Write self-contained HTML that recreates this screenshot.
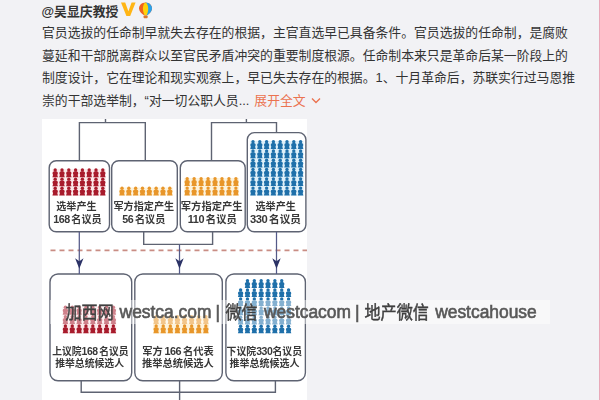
<!DOCTYPE html>
<html lang="zh-CN"><head><meta charset="utf-8"><title>weibo</title>
<style>
html,body{margin:0;padding:0}
body{width:600px;height:400px;overflow:hidden;background:#f2f2f5;position:relative;
font-family:"Liberation Sans","Noto Sans CJK SC",sans-serif;color:#333}
.name{position:absolute;left:41.6px;top:3px;font-size:12.85px;line-height:18px;font-weight:bold;white-space:nowrap}
.txt{position:absolute;left:42px;top:22px;width:545px;font-size:12.83px;line-height:22.5px;white-space:nowrap}
.more{color:#eb7350;margin-left:1.4px}
.pic{position:absolute;left:42px;top:119px;width:265px;height:281px;background:#fff}
.dia{position:absolute;left:0;top:0;filter:blur(0.65px)}
.wm{position:absolute;left:50px;top:300.1px;width:499.8px;height:23.8px;background:rgba(255,255,255,.45);}
.wmt{position:absolute;left:0;top:301px;height:24px;line-height:22px;font-size:16px;color:#5c5c5c;white-space:nowrap}
.wmt span{position:absolute;top:0}
.wmt .l{font-size:17.4px;transform:scale(1,1.09);transform-origin:0 17.4px;-webkit-text-stroke:.6px #585858;color:#585858}
.wmt .c{font-size:16.1px;transform:scale(1,1.15);transform-origin:0 10.9px;-webkit-text-stroke:.4px #404040;color:#404040}
.edge{position:absolute;right:0;top:0;width:1px;height:400px;background:#e9a9b9}
.ic{position:absolute;top:2px}
</style></head><body>
<div class="name">@吴显庆教授</div>
<svg class="ic" style="left:120px;top:0" width="17" height="18" viewBox="0 0 17 18"><path d="M1 2.6H5.2L8.4 11.2L11.6 2.6H15.6L10.2 16H6.4Z" fill="#ffb515"/></svg>
<svg class="ic" style="left:138px;top:0" width="16" height="20" viewBox="0 0 16 20"><path d="M7.5 2.4C3.6 2.4 1 5.2 1 8.4C1 11.4 3.8 13.6 6 15.2H9C11.2 13.6 14 11.4 14 8.4C14 5.2 11.4 2.4 7.5 2.4Z" fill="#f0621f"/><path d="M7.5 2.4C11.4 2.4 14 5.2 14 8.4C14 11.4 11.2 13.6 9 15.2H7.5Z" fill="#2ba2ea"/><path d="M7.5 2.4C5.6 3.4 4.9 6 4.9 8.4C4.9 11 5.8 13.6 6.6 15.2H8.6C9.4 13.6 10.2 11 10.2 8.4C10.2 6 9.4 3.4 7.5 2.4Z" fill="#ffd20a"/><rect x="5.6" y="15.6" width="4" height="2.6" rx=".7" fill="#d9772e"/></svg>
<div class="txt">官员选拔的任命制早就失去存在的根据，主官直选早已具备条件。官员选拔的任命制，是腐败<br>蔓延和干部脱离群众以至官民矛盾冲突的重要制度根源。任命制本来只是革命后某一阶段上的<br>制度设计，它在理论和现实观察上，早已失去存在的根据。1、十月革命后，苏联实行过马恩推<br>崇的干部选举制，“对一切公职人员... <span class="more">展开全文 <svg width="10" height="8" viewBox="0 0 10 8" style="vertical-align:0;margin-left:2px"><path d="M1 1.5L5 5.5L9 1.5" stroke="#eb7350" stroke-width="1.4" fill="none"/></svg></span></div>
<div class="pic"></div>
<svg class="dia" width="600" height="400" viewBox="0 0 600 400"><g stroke="#5e6372" stroke-width="1.4" fill="none"><path d="M105.5 119V122.6M79.4 161V122.6H145.3V161"/><path d="M246.4 119V122.6M211.5 161V122.6H276.5V132.5"/><rect x="49.2" y="160.8" width="60.3" height="71.0" rx="7" fill="#fff"/><rect x="111.7" y="160.8" width="65.6" height="71.0" rx="7" fill="#fff"/><rect x="180.3" y="160.8" width="64.9" height="71.0" rx="7" fill="#fff"/><rect x="247.3" y="132.6" width="58.6" height="99.2" rx="7" fill="#fff"/><path d="M143.7 232V244.4H212.6V232"/><rect x="50" y="274" width="81.7" height="106.8" rx="8" fill="#fff"/><rect x="134.8" y="274" width="87.5" height="106.8" rx="8" fill="#fff"/><rect x="225.9" y="274" width="79.5" height="106.8" rx="8" fill="#fff"/><path d="M81.2 381V392.2H275.4V381M179.6 381V400"/></g><path d="M50.5 250.4H307" stroke="#c98d84" stroke-width="1.7" stroke-dasharray="5 4" fill="none"/><path d="M79.3 232V274" stroke="#545a88" stroke-width="1.25" fill="none"/><path d="M75.1 258.2L79.3 261.2L83.5 258.2L79.3 268.8Z" fill="#2b3266"/><path d="M179.5 244.4V274" stroke="#545a88" stroke-width="1.25" fill="none"/><path d="M175.3 258.2L179.5 261.2L183.7 258.2L179.5 268.8Z" fill="#2b3266"/><path d="M276.5 232V274" stroke="#545a88" stroke-width="1.25" fill="none"/><path d="M272.3 258.2L276.5 261.2L280.7 258.2L276.5 268.8Z" fill="#2b3266"/><rect x="52.3" y="169.2" width="53.4" height="26.4" fill="#fbe9ea"/><g fill="#a81b2c"><circle cx="55.20" cy="170.00" r="1.70"/><path d="M54.20 171.30L56.20 171.30Q58.00 171.70 57.90 173.30L57.30 175.02L57.95 177.13L52.45 177.13L53.10 175.02L52.50 173.30Q52.40 171.70 54.20 171.30Z"/><circle cx="62.00" cy="170.00" r="1.70"/><path d="M61.00 171.30L63.00 171.30Q64.80 171.70 64.70 173.30L64.10 175.02L64.75 177.13L59.25 177.13L59.90 175.02L59.30 173.30Q59.20 171.70 61.00 171.30Z"/><circle cx="68.80" cy="170.00" r="1.70"/><path d="M67.80 171.30L69.80 171.30Q71.60 171.70 71.50 173.30L70.90 175.02L71.55 177.13L66.05 177.13L66.70 175.02L66.10 173.30Q66.00 171.70 67.80 171.30Z"/><circle cx="75.60" cy="170.00" r="1.70"/><path d="M74.60 171.30L76.60 171.30Q78.40 171.70 78.30 173.30L77.70 175.02L78.35 177.13L72.85 177.13L73.50 175.02L72.90 173.30Q72.80 171.70 74.60 171.30Z"/><circle cx="82.40" cy="170.00" r="1.70"/><path d="M81.40 171.30L83.40 171.30Q85.20 171.70 85.10 173.30L84.50 175.02L85.15 177.13L79.65 177.13L80.30 175.02L79.70 173.30Q79.60 171.70 81.40 171.30Z"/><circle cx="89.20" cy="170.00" r="1.70"/><path d="M88.20 171.30L90.20 171.30Q92.00 171.70 91.90 173.30L91.30 175.02L91.95 177.13L86.45 177.13L87.10 175.02L86.50 173.30Q86.40 171.70 88.20 171.30Z"/><circle cx="96.00" cy="170.00" r="1.70"/><path d="M95.00 171.30L97.00 171.30Q98.80 171.70 98.70 173.30L98.10 175.02L98.75 177.13L93.25 177.13L93.90 175.02L93.30 173.30Q93.20 171.70 95.00 171.30Z"/><circle cx="102.80" cy="170.00" r="1.70"/><path d="M101.80 171.30L103.80 171.30Q105.60 171.70 105.50 173.30L104.90 175.02L105.55 177.13L100.05 177.13L100.70 175.02L100.10 173.30Q100.00 171.70 101.80 171.30Z"/><circle cx="55.20" cy="179.13" r="1.70"/><path d="M54.20 180.43L56.20 180.43Q58.00 180.83 57.90 182.43L57.30 184.15L57.95 186.27L52.45 186.27L53.10 184.15L52.50 182.43Q52.40 180.83 54.20 180.43Z"/><circle cx="62.00" cy="179.13" r="1.70"/><path d="M61.00 180.43L63.00 180.43Q64.80 180.83 64.70 182.43L64.10 184.15L64.75 186.27L59.25 186.27L59.90 184.15L59.30 182.43Q59.20 180.83 61.00 180.43Z"/><circle cx="68.80" cy="179.13" r="1.70"/><path d="M67.80 180.43L69.80 180.43Q71.60 180.83 71.50 182.43L70.90 184.15L71.55 186.27L66.05 186.27L66.70 184.15L66.10 182.43Q66.00 180.83 67.80 180.43Z"/><circle cx="75.60" cy="179.13" r="1.70"/><path d="M74.60 180.43L76.60 180.43Q78.40 180.83 78.30 182.43L77.70 184.15L78.35 186.27L72.85 186.27L73.50 184.15L72.90 182.43Q72.80 180.83 74.60 180.43Z"/><circle cx="82.40" cy="179.13" r="1.70"/><path d="M81.40 180.43L83.40 180.43Q85.20 180.83 85.10 182.43L84.50 184.15L85.15 186.27L79.65 186.27L80.30 184.15L79.70 182.43Q79.60 180.83 81.40 180.43Z"/><circle cx="89.20" cy="179.13" r="1.70"/><path d="M88.20 180.43L90.20 180.43Q92.00 180.83 91.90 182.43L91.30 184.15L91.95 186.27L86.45 186.27L87.10 184.15L86.50 182.43Q86.40 180.83 88.20 180.43Z"/><circle cx="96.00" cy="179.13" r="1.70"/><path d="M95.00 180.43L97.00 180.43Q98.80 180.83 98.70 182.43L98.10 184.15L98.75 186.27L93.25 186.27L93.90 184.15L93.30 182.43Q93.20 180.83 95.00 180.43Z"/><circle cx="102.80" cy="179.13" r="1.70"/><path d="M101.80 180.43L103.80 180.43Q105.60 180.83 105.50 182.43L104.90 184.15L105.55 186.27L100.05 186.27L100.70 184.15L100.10 182.43Q100.00 180.83 101.80 180.43Z"/><circle cx="55.20" cy="188.27" r="1.70"/><path d="M54.20 189.57L56.20 189.57Q58.00 189.97 57.90 191.57L57.30 193.28L57.95 195.40L52.45 195.40L53.10 193.28L52.50 191.57Q52.40 189.97 54.20 189.57Z"/><circle cx="62.00" cy="188.27" r="1.70"/><path d="M61.00 189.57L63.00 189.57Q64.80 189.97 64.70 191.57L64.10 193.28L64.75 195.40L59.25 195.40L59.90 193.28L59.30 191.57Q59.20 189.97 61.00 189.57Z"/><circle cx="68.80" cy="188.27" r="1.70"/><path d="M67.80 189.57L69.80 189.57Q71.60 189.97 71.50 191.57L70.90 193.28L71.55 195.40L66.05 195.40L66.70 193.28L66.10 191.57Q66.00 189.97 67.80 189.57Z"/><circle cx="75.60" cy="188.27" r="1.70"/><path d="M74.60 189.57L76.60 189.57Q78.40 189.97 78.30 191.57L77.70 193.28L78.35 195.40L72.85 195.40L73.50 193.28L72.90 191.57Q72.80 189.97 74.60 189.57Z"/><circle cx="82.40" cy="188.27" r="1.70"/><path d="M81.40 189.57L83.40 189.57Q85.20 189.97 85.10 191.57L84.50 193.28L85.15 195.40L79.65 195.40L80.30 193.28L79.70 191.57Q79.60 189.97 81.40 189.57Z"/><circle cx="89.20" cy="188.27" r="1.70"/><path d="M88.20 189.57L90.20 189.57Q92.00 189.97 91.90 191.57L91.30 193.28L91.95 195.40L86.45 195.40L87.10 193.28L86.50 191.57Q86.40 189.97 88.20 189.57Z"/><circle cx="96.00" cy="188.27" r="1.70"/><path d="M95.00 189.57L97.00 189.57Q98.80 189.97 98.70 191.57L98.10 193.28L98.75 195.40L93.25 195.40L93.90 193.28L93.30 191.57Q93.20 189.97 95.00 189.57Z"/><circle cx="102.80" cy="188.27" r="1.70"/><path d="M101.80 189.57L103.80 189.57Q105.60 189.97 105.50 191.57L104.90 193.28L105.55 195.40L100.05 195.40L100.70 193.28L100.10 191.57Q100.00 189.97 101.80 189.57Z"/></g><rect x="119.1" y="187.4" width="53.6" height="8.2" fill="#fdf3dc"/><g fill="#e8962a"><circle cx="122.01" cy="188.20" r="1.70"/><path d="M121.01 189.50L123.01 189.50Q124.81 189.90 124.71 191.50L124.11 193.25L124.76 195.40L119.26 195.40L119.91 193.25L119.31 191.50Q119.21 189.90 121.01 189.50Z"/><circle cx="128.84" cy="188.20" r="1.70"/><path d="M127.84 189.50L129.84 189.50Q131.64 189.90 131.54 191.50L130.94 193.25L131.59 195.40L126.09 195.40L126.74 193.25L126.14 191.50Q126.04 189.90 127.84 189.50Z"/><circle cx="135.66" cy="188.20" r="1.70"/><path d="M134.66 189.50L136.66 189.50Q138.46 189.90 138.36 191.50L137.76 193.25L138.41 195.40L132.91 195.40L133.56 193.25L132.96 191.50Q132.86 189.90 134.66 189.50Z"/><circle cx="142.49" cy="188.20" r="1.70"/><path d="M141.49 189.50L143.49 189.50Q145.29 189.90 145.19 191.50L144.59 193.25L145.24 195.40L139.74 195.40L140.39 193.25L139.79 191.50Q139.69 189.90 141.49 189.50Z"/><circle cx="149.31" cy="188.20" r="1.70"/><path d="M148.31 189.50L150.31 189.50Q152.11 189.90 152.01 191.50L151.41 193.25L152.06 195.40L146.56 195.40L147.21 193.25L146.61 191.50Q146.51 189.90 148.31 189.50Z"/><circle cx="156.14" cy="188.20" r="1.70"/><path d="M155.14 189.50L157.14 189.50Q158.94 189.90 158.84 191.50L158.24 193.25L158.89 195.40L153.39 195.40L154.04 193.25L153.44 191.50Q153.34 189.90 155.14 189.50Z"/><circle cx="162.96" cy="188.20" r="1.70"/><path d="M161.96 189.50L163.96 189.50Q165.76 189.90 165.66 191.50L165.06 193.25L165.71 195.40L160.21 195.40L160.86 193.25L160.26 191.50Q160.16 189.90 161.96 189.50Z"/><circle cx="169.79" cy="188.20" r="1.70"/><path d="M168.79 189.50L170.79 189.50Q172.59 189.90 172.49 191.50L171.89 193.25L172.54 195.40L167.04 195.40L167.69 193.25L167.09 191.50Q166.99 189.90 168.79 189.50Z"/></g><rect x="184.2" y="178.0" width="54.7" height="17.6" fill="#fdf3dc"/><g fill="#e8962a"><circle cx="187.18" cy="178.80" r="1.70"/><path d="M186.18 180.10L188.18 180.10Q189.98 180.50 189.88 182.10L189.28 183.90L189.93 186.10L184.43 186.10L185.08 183.90L184.48 182.10Q184.38 180.50 186.18 180.10Z"/><circle cx="194.14" cy="178.80" r="1.70"/><path d="M193.14 180.10L195.14 180.10Q196.94 180.50 196.84 182.10L196.24 183.90L196.89 186.10L191.39 186.10L192.04 183.90L191.44 182.10Q191.34 180.50 193.14 180.10Z"/><circle cx="201.11" cy="178.80" r="1.70"/><path d="M200.11 180.10L202.11 180.10Q203.91 180.50 203.81 182.10L203.21 183.90L203.86 186.10L198.36 186.10L199.01 183.90L198.41 182.10Q198.31 180.50 200.11 180.10Z"/><circle cx="208.07" cy="178.80" r="1.70"/><path d="M207.07 180.10L209.07 180.10Q210.87 180.50 210.77 182.10L210.17 183.90L210.82 186.10L205.32 186.10L205.97 183.90L205.37 182.10Q205.27 180.50 207.07 180.10Z"/><circle cx="215.03" cy="178.80" r="1.70"/><path d="M214.03 180.10L216.03 180.10Q217.83 180.50 217.73 182.10L217.13 183.90L217.78 186.10L212.28 186.10L212.93 183.90L212.33 182.10Q212.23 180.50 214.03 180.10Z"/><circle cx="221.99" cy="178.80" r="1.70"/><path d="M220.99 180.10L222.99 180.10Q224.79 180.50 224.69 182.10L224.09 183.90L224.74 186.10L219.24 186.10L219.89 183.90L219.29 182.10Q219.19 180.50 220.99 180.10Z"/><circle cx="228.96" cy="178.80" r="1.70"/><path d="M227.96 180.10L229.96 180.10Q231.76 180.50 231.66 182.10L231.06 183.90L231.71 186.10L226.21 186.10L226.86 183.90L226.26 182.10Q226.16 180.50 227.96 180.10Z"/><circle cx="235.92" cy="178.80" r="1.70"/><path d="M234.92 180.10L236.92 180.10Q238.72 180.50 238.62 182.10L238.02 183.90L238.67 186.10L233.17 186.10L233.82 183.90L233.22 182.10Q233.12 180.50 234.92 180.10Z"/><circle cx="187.18" cy="188.10" r="1.70"/><path d="M186.18 189.40L188.18 189.40Q189.98 189.80 189.88 191.40L189.28 193.20L189.93 195.40L184.43 195.40L185.08 193.20L184.48 191.40Q184.38 189.80 186.18 189.40Z"/><circle cx="194.14" cy="188.10" r="1.70"/><path d="M193.14 189.40L195.14 189.40Q196.94 189.80 196.84 191.40L196.24 193.20L196.89 195.40L191.39 195.40L192.04 193.20L191.44 191.40Q191.34 189.80 193.14 189.40Z"/><circle cx="201.11" cy="188.10" r="1.70"/><path d="M200.11 189.40L202.11 189.40Q203.91 189.80 203.81 191.40L203.21 193.20L203.86 195.40L198.36 195.40L199.01 193.20L198.41 191.40Q198.31 189.80 200.11 189.40Z"/><circle cx="208.07" cy="188.10" r="1.70"/><path d="M207.07 189.40L209.07 189.40Q210.87 189.80 210.77 191.40L210.17 193.20L210.82 195.40L205.32 195.40L205.97 193.20L205.37 191.40Q205.27 189.80 207.07 189.40Z"/><circle cx="215.03" cy="188.10" r="1.70"/><path d="M214.03 189.40L216.03 189.40Q217.83 189.80 217.73 191.40L217.13 193.20L217.78 195.40L212.28 195.40L212.93 193.20L212.33 191.40Q212.23 189.80 214.03 189.40Z"/><circle cx="221.99" cy="188.10" r="1.70"/><path d="M220.99 189.40L222.99 189.40Q224.79 189.80 224.69 191.40L224.09 193.20L224.74 195.40L219.24 195.40L219.89 193.20L219.29 191.40Q219.19 189.80 220.99 189.40Z"/><circle cx="228.96" cy="188.10" r="1.70"/><path d="M227.96 189.40L229.96 189.40Q231.76 189.80 231.66 191.40L231.06 193.20L231.71 195.40L226.21 195.40L226.86 193.20L226.26 191.40Q226.16 189.80 227.96 189.40Z"/><circle cx="235.92" cy="188.10" r="1.70"/><path d="M234.92 189.40L236.92 189.40Q238.72 189.80 238.62 191.40L238.02 193.20L238.67 195.40L233.17 195.40L233.82 193.20L233.22 191.40Q233.12 189.80 234.92 189.40Z"/></g><rect x="250.1" y="140.9" width="53.4" height="54.7" fill="#dff0f9"/><g fill="#1f70aa"><circle cx="253.00" cy="141.70" r="1.70"/><path d="M252.00 143.00L254.00 143.00Q255.80 143.40 255.70 145.00L255.10 146.79L255.75 148.98L250.25 148.98L250.90 146.79L250.30 145.00Q250.20 143.40 252.00 143.00Z"/><circle cx="259.80" cy="141.70" r="1.70"/><path d="M258.80 143.00L260.80 143.00Q262.60 143.40 262.50 145.00L261.90 146.79L262.55 148.98L257.05 148.98L257.70 146.79L257.10 145.00Q257.00 143.40 258.80 143.00Z"/><circle cx="266.60" cy="141.70" r="1.70"/><path d="M265.60 143.00L267.60 143.00Q269.40 143.40 269.30 145.00L268.70 146.79L269.35 148.98L263.85 148.98L264.50 146.79L263.90 145.00Q263.80 143.40 265.60 143.00Z"/><circle cx="273.40" cy="141.70" r="1.70"/><path d="M272.40 143.00L274.40 143.00Q276.20 143.40 276.10 145.00L275.50 146.79L276.15 148.98L270.65 148.98L271.30 146.79L270.70 145.00Q270.60 143.40 272.40 143.00Z"/><circle cx="280.20" cy="141.70" r="1.70"/><path d="M279.20 143.00L281.20 143.00Q283.00 143.40 282.90 145.00L282.30 146.79L282.95 148.98L277.45 148.98L278.10 146.79L277.50 145.00Q277.40 143.40 279.20 143.00Z"/><circle cx="287.00" cy="141.70" r="1.70"/><path d="M286.00 143.00L288.00 143.00Q289.80 143.40 289.70 145.00L289.10 146.79L289.75 148.98L284.25 148.98L284.90 146.79L284.30 145.00Q284.20 143.40 286.00 143.00Z"/><circle cx="293.80" cy="141.70" r="1.70"/><path d="M292.80 143.00L294.80 143.00Q296.60 143.40 296.50 145.00L295.90 146.79L296.55 148.98L291.05 148.98L291.70 146.79L291.10 145.00Q291.00 143.40 292.80 143.00Z"/><circle cx="300.60" cy="141.70" r="1.70"/><path d="M299.60 143.00L301.60 143.00Q303.40 143.40 303.30 145.00L302.70 146.79L303.35 148.98L297.85 148.98L298.50 146.79L297.90 145.00Q297.80 143.40 299.60 143.00Z"/><circle cx="253.00" cy="150.98" r="1.70"/><path d="M252.00 152.28L254.00 152.28Q255.80 152.68 255.70 154.28L255.10 156.08L255.75 158.27L250.25 158.27L250.90 156.08L250.30 154.28Q250.20 152.68 252.00 152.28Z"/><circle cx="259.80" cy="150.98" r="1.70"/><path d="M258.80 152.28L260.80 152.28Q262.60 152.68 262.50 154.28L261.90 156.08L262.55 158.27L257.05 158.27L257.70 156.08L257.10 154.28Q257.00 152.68 258.80 152.28Z"/><circle cx="266.60" cy="150.98" r="1.70"/><path d="M265.60 152.28L267.60 152.28Q269.40 152.68 269.30 154.28L268.70 156.08L269.35 158.27L263.85 158.27L264.50 156.08L263.90 154.28Q263.80 152.68 265.60 152.28Z"/><circle cx="273.40" cy="150.98" r="1.70"/><path d="M272.40 152.28L274.40 152.28Q276.20 152.68 276.10 154.28L275.50 156.08L276.15 158.27L270.65 158.27L271.30 156.08L270.70 154.28Q270.60 152.68 272.40 152.28Z"/><circle cx="280.20" cy="150.98" r="1.70"/><path d="M279.20 152.28L281.20 152.28Q283.00 152.68 282.90 154.28L282.30 156.08L282.95 158.27L277.45 158.27L278.10 156.08L277.50 154.28Q277.40 152.68 279.20 152.28Z"/><circle cx="287.00" cy="150.98" r="1.70"/><path d="M286.00 152.28L288.00 152.28Q289.80 152.68 289.70 154.28L289.10 156.08L289.75 158.27L284.25 158.27L284.90 156.08L284.30 154.28Q284.20 152.68 286.00 152.28Z"/><circle cx="293.80" cy="150.98" r="1.70"/><path d="M292.80 152.28L294.80 152.28Q296.60 152.68 296.50 154.28L295.90 156.08L296.55 158.27L291.05 158.27L291.70 156.08L291.10 154.28Q291.00 152.68 292.80 152.28Z"/><circle cx="300.60" cy="150.98" r="1.70"/><path d="M299.60 152.28L301.60 152.28Q303.40 152.68 303.30 154.28L302.70 156.08L303.35 158.27L297.85 158.27L298.50 156.08L297.90 154.28Q297.80 152.68 299.60 152.28Z"/><circle cx="253.00" cy="160.27" r="1.70"/><path d="M252.00 161.57L254.00 161.57Q255.80 161.97 255.70 163.57L255.10 165.36L255.75 167.55L250.25 167.55L250.90 165.36L250.30 163.57Q250.20 161.97 252.00 161.57Z"/><circle cx="259.80" cy="160.27" r="1.70"/><path d="M258.80 161.57L260.80 161.57Q262.60 161.97 262.50 163.57L261.90 165.36L262.55 167.55L257.05 167.55L257.70 165.36L257.10 163.57Q257.00 161.97 258.80 161.57Z"/><circle cx="266.60" cy="160.27" r="1.70"/><path d="M265.60 161.57L267.60 161.57Q269.40 161.97 269.30 163.57L268.70 165.36L269.35 167.55L263.85 167.55L264.50 165.36L263.90 163.57Q263.80 161.97 265.60 161.57Z"/><circle cx="273.40" cy="160.27" r="1.70"/><path d="M272.40 161.57L274.40 161.57Q276.20 161.97 276.10 163.57L275.50 165.36L276.15 167.55L270.65 167.55L271.30 165.36L270.70 163.57Q270.60 161.97 272.40 161.57Z"/><circle cx="280.20" cy="160.27" r="1.70"/><path d="M279.20 161.57L281.20 161.57Q283.00 161.97 282.90 163.57L282.30 165.36L282.95 167.55L277.45 167.55L278.10 165.36L277.50 163.57Q277.40 161.97 279.20 161.57Z"/><circle cx="287.00" cy="160.27" r="1.70"/><path d="M286.00 161.57L288.00 161.57Q289.80 161.97 289.70 163.57L289.10 165.36L289.75 167.55L284.25 167.55L284.90 165.36L284.30 163.57Q284.20 161.97 286.00 161.57Z"/><circle cx="293.80" cy="160.27" r="1.70"/><path d="M292.80 161.57L294.80 161.57Q296.60 161.97 296.50 163.57L295.90 165.36L296.55 167.55L291.05 167.55L291.70 165.36L291.10 163.57Q291.00 161.97 292.80 161.57Z"/><circle cx="300.60" cy="160.27" r="1.70"/><path d="M299.60 161.57L301.60 161.57Q303.40 161.97 303.30 163.57L302.70 165.36L303.35 167.55L297.85 167.55L298.50 165.36L297.90 163.57Q297.80 161.97 299.60 161.57Z"/><circle cx="253.00" cy="169.55" r="1.70"/><path d="M252.00 170.85L254.00 170.85Q255.80 171.25 255.70 172.85L255.10 174.64L255.75 176.83L250.25 176.83L250.90 174.64L250.30 172.85Q250.20 171.25 252.00 170.85Z"/><circle cx="259.80" cy="169.55" r="1.70"/><path d="M258.80 170.85L260.80 170.85Q262.60 171.25 262.50 172.85L261.90 174.64L262.55 176.83L257.05 176.83L257.70 174.64L257.10 172.85Q257.00 171.25 258.80 170.85Z"/><circle cx="266.60" cy="169.55" r="1.70"/><path d="M265.60 170.85L267.60 170.85Q269.40 171.25 269.30 172.85L268.70 174.64L269.35 176.83L263.85 176.83L264.50 174.64L263.90 172.85Q263.80 171.25 265.60 170.85Z"/><circle cx="273.40" cy="169.55" r="1.70"/><path d="M272.40 170.85L274.40 170.85Q276.20 171.25 276.10 172.85L275.50 174.64L276.15 176.83L270.65 176.83L271.30 174.64L270.70 172.85Q270.60 171.25 272.40 170.85Z"/><circle cx="280.20" cy="169.55" r="1.70"/><path d="M279.20 170.85L281.20 170.85Q283.00 171.25 282.90 172.85L282.30 174.64L282.95 176.83L277.45 176.83L278.10 174.64L277.50 172.85Q277.40 171.25 279.20 170.85Z"/><circle cx="287.00" cy="169.55" r="1.70"/><path d="M286.00 170.85L288.00 170.85Q289.80 171.25 289.70 172.85L289.10 174.64L289.75 176.83L284.25 176.83L284.90 174.64L284.30 172.85Q284.20 171.25 286.00 170.85Z"/><circle cx="293.80" cy="169.55" r="1.70"/><path d="M292.80 170.85L294.80 170.85Q296.60 171.25 296.50 172.85L295.90 174.64L296.55 176.83L291.05 176.83L291.70 174.64L291.10 172.85Q291.00 171.25 292.80 170.85Z"/><circle cx="300.60" cy="169.55" r="1.70"/><path d="M299.60 170.85L301.60 170.85Q303.40 171.25 303.30 172.85L302.70 174.64L303.35 176.83L297.85 176.83L298.50 174.64L297.90 172.85Q297.80 171.25 299.60 170.85Z"/><circle cx="253.00" cy="178.83" r="1.70"/><path d="M252.00 180.13L254.00 180.13Q255.80 180.53 255.70 182.13L255.10 183.92L255.75 186.12L250.25 186.12L250.90 183.92L250.30 182.13Q250.20 180.53 252.00 180.13Z"/><circle cx="259.80" cy="178.83" r="1.70"/><path d="M258.80 180.13L260.80 180.13Q262.60 180.53 262.50 182.13L261.90 183.92L262.55 186.12L257.05 186.12L257.70 183.92L257.10 182.13Q257.00 180.53 258.80 180.13Z"/><circle cx="266.60" cy="178.83" r="1.70"/><path d="M265.60 180.13L267.60 180.13Q269.40 180.53 269.30 182.13L268.70 183.92L269.35 186.12L263.85 186.12L264.50 183.92L263.90 182.13Q263.80 180.53 265.60 180.13Z"/><circle cx="273.40" cy="178.83" r="1.70"/><path d="M272.40 180.13L274.40 180.13Q276.20 180.53 276.10 182.13L275.50 183.92L276.15 186.12L270.65 186.12L271.30 183.92L270.70 182.13Q270.60 180.53 272.40 180.13Z"/><circle cx="280.20" cy="178.83" r="1.70"/><path d="M279.20 180.13L281.20 180.13Q283.00 180.53 282.90 182.13L282.30 183.92L282.95 186.12L277.45 186.12L278.10 183.92L277.50 182.13Q277.40 180.53 279.20 180.13Z"/><circle cx="287.00" cy="178.83" r="1.70"/><path d="M286.00 180.13L288.00 180.13Q289.80 180.53 289.70 182.13L289.10 183.92L289.75 186.12L284.25 186.12L284.90 183.92L284.30 182.13Q284.20 180.53 286.00 180.13Z"/><circle cx="293.80" cy="178.83" r="1.70"/><path d="M292.80 180.13L294.80 180.13Q296.60 180.53 296.50 182.13L295.90 183.92L296.55 186.12L291.05 186.12L291.70 183.92L291.10 182.13Q291.00 180.53 292.80 180.13Z"/><circle cx="300.60" cy="178.83" r="1.70"/><path d="M299.60 180.13L301.60 180.13Q303.40 180.53 303.30 182.13L302.70 183.92L303.35 186.12L297.85 186.12L298.50 183.92L297.90 182.13Q297.80 180.53 299.60 180.13Z"/><circle cx="253.00" cy="188.12" r="1.70"/><path d="M252.00 189.42L254.00 189.42Q255.80 189.82 255.70 191.42L255.10 193.21L255.75 195.40L250.25 195.40L250.90 193.21L250.30 191.42Q250.20 189.82 252.00 189.42Z"/><circle cx="259.80" cy="188.12" r="1.70"/><path d="M258.80 189.42L260.80 189.42Q262.60 189.82 262.50 191.42L261.90 193.21L262.55 195.40L257.05 195.40L257.70 193.21L257.10 191.42Q257.00 189.82 258.80 189.42Z"/><circle cx="266.60" cy="188.12" r="1.70"/><path d="M265.60 189.42L267.60 189.42Q269.40 189.82 269.30 191.42L268.70 193.21L269.35 195.40L263.85 195.40L264.50 193.21L263.90 191.42Q263.80 189.82 265.60 189.42Z"/><circle cx="273.40" cy="188.12" r="1.70"/><path d="M272.40 189.42L274.40 189.42Q276.20 189.82 276.10 191.42L275.50 193.21L276.15 195.40L270.65 195.40L271.30 193.21L270.70 191.42Q270.60 189.82 272.40 189.42Z"/><circle cx="280.20" cy="188.12" r="1.70"/><path d="M279.20 189.42L281.20 189.42Q283.00 189.82 282.90 191.42L282.30 193.21L282.95 195.40L277.45 195.40L278.10 193.21L277.50 191.42Q277.40 189.82 279.20 189.42Z"/><circle cx="287.00" cy="188.12" r="1.70"/><path d="M286.00 189.42L288.00 189.42Q289.80 189.82 289.70 191.42L289.10 193.21L289.75 195.40L284.25 195.40L284.90 193.21L284.30 191.42Q284.20 189.82 286.00 189.42Z"/><circle cx="293.80" cy="188.12" r="1.70"/><path d="M292.80 189.42L294.80 189.42Q296.60 189.82 296.50 191.42L295.90 193.21L296.55 195.40L291.05 195.40L291.70 193.21L291.10 191.42Q291.00 189.82 292.80 189.42Z"/><circle cx="300.60" cy="188.12" r="1.70"/><path d="M299.60 189.42L301.60 189.42Q303.40 189.82 303.30 191.42L302.70 193.21L303.35 195.40L297.85 195.40L298.50 193.21L297.90 191.42Q297.80 189.82 299.60 189.42Z"/></g><rect x="62.5" y="306.5" width="53.8" height="27.0" fill="#fbe9ea"/><g fill="#a81b2c"><circle cx="65.42" cy="307.30" r="1.70"/><path d="M64.42 308.60L66.42 308.60Q68.22 309.00 68.12 310.60L67.52 312.42L68.17 314.63L62.67 314.63L63.32 312.42L62.72 310.60Q62.62 309.00 64.42 308.60Z"/><circle cx="72.27" cy="307.30" r="1.70"/><path d="M71.27 308.60L73.27 308.60Q75.07 309.00 74.97 310.60L74.37 312.42L75.02 314.63L69.52 314.63L70.17 312.42L69.57 310.60Q69.47 309.00 71.27 308.60Z"/><circle cx="79.12" cy="307.30" r="1.70"/><path d="M78.12 308.60L80.12 308.60Q81.92 309.00 81.83 310.60L81.22 312.42L81.88 314.63L76.38 314.63L77.03 312.42L76.42 310.60Q76.33 309.00 78.12 308.60Z"/><circle cx="85.97" cy="307.30" r="1.70"/><path d="M84.97 308.60L86.97 308.60Q88.77 309.00 88.67 310.60L88.07 312.42L88.72 314.63L83.22 314.63L83.88 312.42L83.27 310.60Q83.17 309.00 84.97 308.60Z"/><circle cx="92.83" cy="307.30" r="1.70"/><path d="M91.83 308.60L93.83 308.60Q95.62 309.00 95.53 310.60L94.92 312.42L95.58 314.63L90.08 314.63L90.73 312.42L90.12 310.60Q90.03 309.00 91.83 308.60Z"/><circle cx="99.67" cy="307.30" r="1.70"/><path d="M98.67 308.60L100.67 308.60Q102.47 309.00 102.38 310.60L101.77 312.42L102.42 314.63L96.92 314.63L97.58 312.42L96.97 310.60Q96.88 309.00 98.67 308.60Z"/><circle cx="106.52" cy="307.30" r="1.70"/><path d="M105.52 308.60L107.52 308.60Q109.32 309.00 109.22 310.60L108.62 312.42L109.27 314.63L103.77 314.63L104.42 312.42L103.82 310.60Q103.72 309.00 105.52 308.60Z"/><circle cx="113.37" cy="307.30" r="1.70"/><path d="M112.37 308.60L114.37 308.60Q116.17 309.00 116.07 310.60L115.47 312.42L116.12 314.63L110.62 314.63L111.27 312.42L110.67 310.60Q110.57 309.00 112.37 308.60Z"/><circle cx="65.42" cy="316.63" r="1.70"/><path d="M64.42 317.93L66.42 317.93Q68.22 318.33 68.12 319.93L67.52 321.75L68.17 323.97L62.67 323.97L63.32 321.75L62.72 319.93Q62.62 318.33 64.42 317.93Z"/><circle cx="72.27" cy="316.63" r="1.70"/><path d="M71.27 317.93L73.27 317.93Q75.07 318.33 74.97 319.93L74.37 321.75L75.02 323.97L69.52 323.97L70.17 321.75L69.57 319.93Q69.47 318.33 71.27 317.93Z"/><circle cx="79.12" cy="316.63" r="1.70"/><path d="M78.12 317.93L80.12 317.93Q81.92 318.33 81.83 319.93L81.22 321.75L81.88 323.97L76.38 323.97L77.03 321.75L76.42 319.93Q76.33 318.33 78.12 317.93Z"/><circle cx="85.97" cy="316.63" r="1.70"/><path d="M84.97 317.93L86.97 317.93Q88.77 318.33 88.67 319.93L88.07 321.75L88.72 323.97L83.22 323.97L83.88 321.75L83.27 319.93Q83.17 318.33 84.97 317.93Z"/><circle cx="92.83" cy="316.63" r="1.70"/><path d="M91.83 317.93L93.83 317.93Q95.62 318.33 95.53 319.93L94.92 321.75L95.58 323.97L90.08 323.97L90.73 321.75L90.12 319.93Q90.03 318.33 91.83 317.93Z"/><circle cx="99.67" cy="316.63" r="1.70"/><path d="M98.67 317.93L100.67 317.93Q102.47 318.33 102.38 319.93L101.77 321.75L102.42 323.97L96.92 323.97L97.58 321.75L96.97 319.93Q96.88 318.33 98.67 317.93Z"/><circle cx="106.52" cy="316.63" r="1.70"/><path d="M105.52 317.93L107.52 317.93Q109.32 318.33 109.22 319.93L108.62 321.75L109.27 323.97L103.77 323.97L104.42 321.75L103.82 319.93Q103.72 318.33 105.52 317.93Z"/><circle cx="113.37" cy="316.63" r="1.70"/><path d="M112.37 317.93L114.37 317.93Q116.17 318.33 116.07 319.93L115.47 321.75L116.12 323.97L110.62 323.97L111.27 321.75L110.67 319.93Q110.57 318.33 112.37 317.93Z"/><circle cx="65.42" cy="325.97" r="1.70"/><path d="M64.42 327.27L66.42 327.27Q68.22 327.67 68.12 329.27L67.52 331.08L68.17 333.30L62.67 333.30L63.32 331.08L62.72 329.27Q62.62 327.67 64.42 327.27Z"/><circle cx="72.27" cy="325.97" r="1.70"/><path d="M71.27 327.27L73.27 327.27Q75.07 327.67 74.97 329.27L74.37 331.08L75.02 333.30L69.52 333.30L70.17 331.08L69.57 329.27Q69.47 327.67 71.27 327.27Z"/><circle cx="79.12" cy="325.97" r="1.70"/><path d="M78.12 327.27L80.12 327.27Q81.92 327.67 81.83 329.27L81.22 331.08L81.88 333.30L76.38 333.30L77.03 331.08L76.42 329.27Q76.33 327.67 78.12 327.27Z"/><circle cx="85.97" cy="325.97" r="1.70"/><path d="M84.97 327.27L86.97 327.27Q88.77 327.67 88.67 329.27L88.07 331.08L88.72 333.30L83.22 333.30L83.88 331.08L83.27 329.27Q83.17 327.67 84.97 327.27Z"/><circle cx="92.83" cy="325.97" r="1.70"/><path d="M91.83 327.27L93.83 327.27Q95.62 327.67 95.53 329.27L94.92 331.08L95.58 333.30L90.08 333.30L90.73 331.08L90.12 329.27Q90.03 327.67 91.83 327.27Z"/><circle cx="99.67" cy="325.97" r="1.70"/><path d="M98.67 327.27L100.67 327.27Q102.47 327.67 102.38 329.27L101.77 331.08L102.42 333.30L96.92 333.30L97.58 331.08L96.97 329.27Q96.88 327.67 98.67 327.27Z"/><circle cx="106.52" cy="325.97" r="1.70"/><path d="M105.52 327.27L107.52 327.27Q109.32 327.67 109.22 329.27L108.62 331.08L109.27 333.30L103.77 333.30L104.42 331.08L103.82 329.27Q103.72 327.67 105.52 327.27Z"/><circle cx="113.37" cy="325.97" r="1.70"/><path d="M112.37 327.27L114.37 327.27Q116.17 327.67 116.07 329.27L115.47 331.08L116.12 333.30L110.62 333.30L111.27 331.08L110.67 329.27Q110.57 327.67 112.37 327.27Z"/></g><rect x="153.1" y="315.9" width="55.8" height="17.6" fill="#fdf3dc"/><g fill="#e8962a"><circle cx="156.15" cy="316.70" r="1.70"/><path d="M155.15 318.00L157.15 318.00Q158.95 318.40 158.85 320.00L158.25 321.80L158.90 324.00L153.40 324.00L154.05 321.80L153.45 320.00Q153.35 318.40 155.15 318.00Z"/><circle cx="163.25" cy="316.70" r="1.70"/><path d="M162.25 318.00L164.25 318.00Q166.05 318.40 165.95 320.00L165.35 321.80L166.00 324.00L160.50 324.00L161.15 321.80L160.55 320.00Q160.45 318.40 162.25 318.00Z"/><circle cx="170.35" cy="316.70" r="1.70"/><path d="M169.35 318.00L171.35 318.00Q173.15 318.40 173.05 320.00L172.45 321.80L173.10 324.00L167.60 324.00L168.25 321.80L167.65 320.00Q167.55 318.40 169.35 318.00Z"/><circle cx="177.45" cy="316.70" r="1.70"/><path d="M176.45 318.00L178.45 318.00Q180.25 318.40 180.15 320.00L179.55 321.80L180.20 324.00L174.70 324.00L175.35 321.80L174.75 320.00Q174.65 318.40 176.45 318.00Z"/><circle cx="184.55" cy="316.70" r="1.70"/><path d="M183.55 318.00L185.55 318.00Q187.35 318.40 187.25 320.00L186.65 321.80L187.30 324.00L181.80 324.00L182.45 321.80L181.85 320.00Q181.75 318.40 183.55 318.00Z"/><circle cx="191.65" cy="316.70" r="1.70"/><path d="M190.65 318.00L192.65 318.00Q194.45 318.40 194.35 320.00L193.75 321.80L194.40 324.00L188.90 324.00L189.55 321.80L188.95 320.00Q188.85 318.40 190.65 318.00Z"/><circle cx="198.75" cy="316.70" r="1.70"/><path d="M197.75 318.00L199.75 318.00Q201.55 318.40 201.45 320.00L200.85 321.80L201.50 324.00L196.00 324.00L196.65 321.80L196.05 320.00Q195.95 318.40 197.75 318.00Z"/><circle cx="205.85" cy="316.70" r="1.70"/><path d="M204.85 318.00L206.85 318.00Q208.65 318.40 208.55 320.00L207.95 321.80L208.60 324.00L203.10 324.00L203.75 321.80L203.15 320.00Q203.05 318.40 204.85 318.00Z"/><circle cx="156.15" cy="326.00" r="1.70"/><path d="M155.15 327.30L157.15 327.30Q158.95 327.70 158.85 329.30L158.25 331.10L158.90 333.30L153.40 333.30L154.05 331.10L153.45 329.30Q153.35 327.70 155.15 327.30Z"/><circle cx="163.25" cy="326.00" r="1.70"/><path d="M162.25 327.30L164.25 327.30Q166.05 327.70 165.95 329.30L165.35 331.10L166.00 333.30L160.50 333.30L161.15 331.10L160.55 329.30Q160.45 327.70 162.25 327.30Z"/><circle cx="170.35" cy="326.00" r="1.70"/><path d="M169.35 327.30L171.35 327.30Q173.15 327.70 173.05 329.30L172.45 331.10L173.10 333.30L167.60 333.30L168.25 331.10L167.65 329.30Q167.55 327.70 169.35 327.30Z"/><circle cx="177.45" cy="326.00" r="1.70"/><path d="M176.45 327.30L178.45 327.30Q180.25 327.70 180.15 329.30L179.55 331.10L180.20 333.30L174.70 333.30L175.35 331.10L174.75 329.30Q174.65 327.70 176.45 327.30Z"/><circle cx="184.55" cy="326.00" r="1.70"/><path d="M183.55 327.30L185.55 327.30Q187.35 327.70 187.25 329.30L186.65 331.10L187.30 333.30L181.80 333.30L182.45 331.10L181.85 329.30Q181.75 327.70 183.55 327.30Z"/><circle cx="191.65" cy="326.00" r="1.70"/><path d="M190.65 327.30L192.65 327.30Q194.45 327.70 194.35 329.30L193.75 331.10L194.40 333.30L188.90 333.30L189.55 331.10L188.95 329.30Q188.85 327.70 190.65 327.30Z"/><circle cx="198.75" cy="326.00" r="1.70"/><path d="M197.75 327.30L199.75 327.30Q201.55 327.70 201.45 329.30L200.85 331.10L201.50 333.30L196.00 333.30L196.65 331.10L196.05 329.30Q195.95 327.70 197.75 327.30Z"/><circle cx="205.85" cy="326.00" r="1.70"/><path d="M204.85 327.30L206.85 327.30Q208.65 327.70 208.55 329.30L207.95 331.10L208.60 333.30L203.10 333.30L203.75 331.10L203.15 329.30Q203.05 327.70 204.85 327.30Z"/></g><g fill="#1f70aa"><circle cx="247.47" cy="280.80" r="1.70"/><path d="M246.47 282.10L248.47 282.10Q250.28 282.50 250.17 284.10L249.57 285.79L250.22 287.88L244.72 287.88L245.38 285.79L244.78 284.10Q244.67 282.50 246.47 282.10Z"/><circle cx="254.32" cy="280.80" r="1.70"/><path d="M253.32 282.10L255.32 282.10Q257.12 282.50 257.02 284.10L256.43 285.79L257.07 287.88L251.57 287.88L252.22 285.79L251.62 284.10Q251.52 282.50 253.32 282.10Z"/><circle cx="261.18" cy="280.80" r="1.70"/><path d="M260.18 282.10L262.18 282.10Q263.98 282.50 263.88 284.10L263.28 285.79L263.93 287.88L258.43 287.88L259.07 285.79L258.48 284.10Q258.38 282.50 260.18 282.10Z"/><circle cx="268.02" cy="280.80" r="1.70"/><path d="M267.02 282.10L269.02 282.10Q270.82 282.50 270.72 284.10L270.12 285.79L270.77 287.88L265.27 287.88L265.92 285.79L265.32 284.10Q265.22 282.50 267.02 282.10Z"/><circle cx="274.88" cy="280.80" r="1.70"/><path d="M273.88 282.10L275.88 282.10Q277.68 282.50 277.57 284.10L276.98 285.79L277.62 287.88L272.12 287.88L272.77 285.79L272.18 284.10Q272.07 282.50 273.88 282.10Z"/><circle cx="281.73" cy="280.80" r="1.70"/><path d="M280.73 282.10L282.73 282.10Q284.53 282.50 284.43 284.10L283.83 285.79L284.48 287.88L278.98 287.88L279.62 285.79L279.03 284.10Q278.93 282.50 280.73 282.10Z"/><circle cx="240.62" cy="289.88" r="1.70"/><path d="M239.62 291.18L241.62 291.18Q243.43 291.58 243.32 293.18L242.72 294.88L243.38 296.97L237.88 296.97L238.53 294.88L237.93 293.18Q237.82 291.58 239.62 291.18Z"/><circle cx="247.47" cy="289.88" r="1.70"/><path d="M246.47 291.18L248.47 291.18Q250.28 291.58 250.17 293.18L249.57 294.88L250.22 296.97L244.72 296.97L245.38 294.88L244.78 293.18Q244.67 291.58 246.47 291.18Z"/><circle cx="254.32" cy="289.88" r="1.70"/><path d="M253.32 291.18L255.32 291.18Q257.12 291.58 257.02 293.18L256.43 294.88L257.07 296.97L251.57 296.97L252.22 294.88L251.62 293.18Q251.52 291.58 253.32 291.18Z"/><circle cx="261.18" cy="289.88" r="1.70"/><path d="M260.18 291.18L262.18 291.18Q263.98 291.58 263.88 293.18L263.28 294.88L263.93 296.97L258.43 296.97L259.07 294.88L258.48 293.18Q258.38 291.58 260.18 291.18Z"/><circle cx="268.03" cy="289.88" r="1.70"/><path d="M267.03 291.18L269.03 291.18Q270.83 291.58 270.73 293.18L270.13 294.88L270.78 296.97L265.28 296.97L265.93 294.88L265.33 293.18Q265.23 291.58 267.03 291.18Z"/><circle cx="274.88" cy="289.88" r="1.70"/><path d="M273.88 291.18L275.88 291.18Q277.68 291.58 277.57 293.18L276.98 294.88L277.62 296.97L272.12 296.97L272.77 294.88L272.18 293.18Q272.07 291.58 273.88 291.18Z"/><circle cx="281.73" cy="289.88" r="1.70"/><path d="M280.73 291.18L282.73 291.18Q284.53 291.58 284.43 293.18L283.83 294.88L284.48 296.97L278.98 296.97L279.62 294.88L279.03 293.18Q278.93 291.58 280.73 291.18Z"/><circle cx="288.57" cy="289.88" r="1.70"/><path d="M287.57 291.18L289.57 291.18Q291.38 291.58 291.27 293.18L290.68 294.88L291.32 296.97L285.82 296.97L286.47 294.88L285.88 293.18Q285.77 291.58 287.57 291.18Z"/><circle cx="240.62" cy="298.97" r="1.70"/><path d="M239.62 300.27L241.62 300.27Q243.43 300.67 243.32 302.27L242.72 303.96L243.38 306.05L237.88 306.05L238.53 303.96L237.93 302.27Q237.82 300.67 239.62 300.27Z"/><circle cx="247.47" cy="298.97" r="1.70"/><path d="M246.47 300.27L248.47 300.27Q250.28 300.67 250.17 302.27L249.57 303.96L250.22 306.05L244.72 306.05L245.38 303.96L244.78 302.27Q244.67 300.67 246.47 300.27Z"/><circle cx="254.32" cy="298.97" r="1.70"/><path d="M253.32 300.27L255.32 300.27Q257.12 300.67 257.02 302.27L256.43 303.96L257.07 306.05L251.57 306.05L252.22 303.96L251.62 302.27Q251.52 300.67 253.32 300.27Z"/><circle cx="261.18" cy="298.97" r="1.70"/><path d="M260.18 300.27L262.18 300.27Q263.98 300.67 263.88 302.27L263.28 303.96L263.93 306.05L258.43 306.05L259.07 303.96L258.48 302.27Q258.38 300.67 260.18 300.27Z"/><circle cx="268.03" cy="298.97" r="1.70"/><path d="M267.03 300.27L269.03 300.27Q270.83 300.67 270.73 302.27L270.13 303.96L270.78 306.05L265.28 306.05L265.93 303.96L265.33 302.27Q265.23 300.67 267.03 300.27Z"/><circle cx="274.88" cy="298.97" r="1.70"/><path d="M273.88 300.27L275.88 300.27Q277.68 300.67 277.57 302.27L276.98 303.96L277.62 306.05L272.12 306.05L272.77 303.96L272.18 302.27Q272.07 300.67 273.88 300.27Z"/><circle cx="281.73" cy="298.97" r="1.70"/><path d="M280.73 300.27L282.73 300.27Q284.53 300.67 284.43 302.27L283.83 303.96L284.48 306.05L278.98 306.05L279.62 303.96L279.03 302.27Q278.93 300.67 280.73 300.27Z"/><circle cx="288.57" cy="298.97" r="1.70"/><path d="M287.57 300.27L289.57 300.27Q291.38 300.67 291.27 302.27L290.68 303.96L291.32 306.05L285.82 306.05L286.47 303.96L285.88 302.27Q285.77 300.67 287.57 300.27Z"/><circle cx="240.62" cy="308.05" r="1.70"/><path d="M239.62 309.35L241.62 309.35Q243.43 309.75 243.32 311.35L242.72 313.04L243.38 315.13L237.88 315.13L238.53 313.04L237.93 311.35Q237.82 309.75 239.62 309.35Z"/><circle cx="247.47" cy="308.05" r="1.70"/><path d="M246.47 309.35L248.47 309.35Q250.28 309.75 250.17 311.35L249.57 313.04L250.22 315.13L244.72 315.13L245.38 313.04L244.78 311.35Q244.67 309.75 246.47 309.35Z"/><circle cx="254.32" cy="308.05" r="1.70"/><path d="M253.32 309.35L255.32 309.35Q257.12 309.75 257.02 311.35L256.43 313.04L257.07 315.13L251.57 315.13L252.22 313.04L251.62 311.35Q251.52 309.75 253.32 309.35Z"/><circle cx="261.18" cy="308.05" r="1.70"/><path d="M260.18 309.35L262.18 309.35Q263.98 309.75 263.88 311.35L263.28 313.04L263.93 315.13L258.43 315.13L259.07 313.04L258.48 311.35Q258.38 309.75 260.18 309.35Z"/><circle cx="268.03" cy="308.05" r="1.70"/><path d="M267.03 309.35L269.03 309.35Q270.83 309.75 270.73 311.35L270.13 313.04L270.78 315.13L265.28 315.13L265.93 313.04L265.33 311.35Q265.23 309.75 267.03 309.35Z"/><circle cx="274.88" cy="308.05" r="1.70"/><path d="M273.88 309.35L275.88 309.35Q277.68 309.75 277.57 311.35L276.98 313.04L277.62 315.13L272.12 315.13L272.77 313.04L272.18 311.35Q272.07 309.75 273.88 309.35Z"/><circle cx="281.73" cy="308.05" r="1.70"/><path d="M280.73 309.35L282.73 309.35Q284.53 309.75 284.43 311.35L283.83 313.04L284.48 315.13L278.98 315.13L279.62 313.04L279.03 311.35Q278.93 309.75 280.73 309.35Z"/><circle cx="288.57" cy="308.05" r="1.70"/><path d="M287.57 309.35L289.57 309.35Q291.38 309.75 291.27 311.35L290.68 313.04L291.32 315.13L285.82 315.13L286.47 313.04L285.88 311.35Q285.77 309.75 287.57 309.35Z"/><circle cx="240.62" cy="317.13" r="1.70"/><path d="M239.62 318.43L241.62 318.43Q243.43 318.83 243.32 320.43L242.72 322.12L243.38 324.22L237.88 324.22L238.53 322.12L237.93 320.43Q237.82 318.83 239.62 318.43Z"/><circle cx="247.47" cy="317.13" r="1.70"/><path d="M246.47 318.43L248.47 318.43Q250.28 318.83 250.17 320.43L249.57 322.12L250.22 324.22L244.72 324.22L245.38 322.12L244.78 320.43Q244.67 318.83 246.47 318.43Z"/><circle cx="254.32" cy="317.13" r="1.70"/><path d="M253.32 318.43L255.32 318.43Q257.12 318.83 257.02 320.43L256.43 322.12L257.07 324.22L251.57 324.22L252.22 322.12L251.62 320.43Q251.52 318.83 253.32 318.43Z"/><circle cx="261.18" cy="317.13" r="1.70"/><path d="M260.18 318.43L262.18 318.43Q263.98 318.83 263.88 320.43L263.28 322.12L263.93 324.22L258.43 324.22L259.07 322.12L258.48 320.43Q258.38 318.83 260.18 318.43Z"/><circle cx="268.03" cy="317.13" r="1.70"/><path d="M267.03 318.43L269.03 318.43Q270.83 318.83 270.73 320.43L270.13 322.12L270.78 324.22L265.28 324.22L265.93 322.12L265.33 320.43Q265.23 318.83 267.03 318.43Z"/><circle cx="274.88" cy="317.13" r="1.70"/><path d="M273.88 318.43L275.88 318.43Q277.68 318.83 277.57 320.43L276.98 322.12L277.62 324.22L272.12 324.22L272.77 322.12L272.18 320.43Q272.07 318.83 273.88 318.43Z"/><circle cx="281.73" cy="317.13" r="1.70"/><path d="M280.73 318.43L282.73 318.43Q284.53 318.83 284.43 320.43L283.83 322.12L284.48 324.22L278.98 324.22L279.62 322.12L279.03 320.43Q278.93 318.83 280.73 318.43Z"/><circle cx="288.57" cy="317.13" r="1.70"/><path d="M287.57 318.43L289.57 318.43Q291.38 318.83 291.27 320.43L290.68 322.12L291.32 324.22L285.82 324.22L286.47 322.12L285.88 320.43Q285.77 318.83 287.57 318.43Z"/><circle cx="240.62" cy="326.22" r="1.70"/><path d="M239.62 327.52L241.62 327.52Q243.43 327.92 243.32 329.52L242.72 331.21L243.38 333.30L237.88 333.30L238.53 331.21L237.93 329.52Q237.82 327.92 239.62 327.52Z"/><circle cx="247.47" cy="326.22" r="1.70"/><path d="M246.47 327.52L248.47 327.52Q250.28 327.92 250.17 329.52L249.57 331.21L250.22 333.30L244.72 333.30L245.38 331.21L244.78 329.52Q244.67 327.92 246.47 327.52Z"/><circle cx="254.32" cy="326.22" r="1.70"/><path d="M253.32 327.52L255.32 327.52Q257.12 327.92 257.02 329.52L256.43 331.21L257.07 333.30L251.57 333.30L252.22 331.21L251.62 329.52Q251.52 327.92 253.32 327.52Z"/><circle cx="261.18" cy="326.22" r="1.70"/><path d="M260.18 327.52L262.18 327.52Q263.98 327.92 263.88 329.52L263.28 331.21L263.93 333.30L258.43 333.30L259.07 331.21L258.48 329.52Q258.38 327.92 260.18 327.52Z"/><circle cx="268.03" cy="326.22" r="1.70"/><path d="M267.03 327.52L269.03 327.52Q270.83 327.92 270.73 329.52L270.13 331.21L270.78 333.30L265.28 333.30L265.93 331.21L265.33 329.52Q265.23 327.92 267.03 327.52Z"/><circle cx="274.88" cy="326.22" r="1.70"/><path d="M273.88 327.52L275.88 327.52Q277.68 327.92 277.57 329.52L276.98 331.21L277.62 333.30L272.12 333.30L272.77 331.21L272.18 329.52Q272.07 327.92 273.88 327.52Z"/><circle cx="281.73" cy="326.22" r="1.70"/><path d="M280.73 327.52L282.73 327.52Q284.53 327.92 284.43 329.52L283.83 331.21L284.48 333.30L278.98 333.30L279.62 331.21L279.03 329.52Q278.93 327.92 280.73 327.52Z"/><circle cx="288.57" cy="326.22" r="1.70"/><path d="M287.57 327.52L289.57 327.52Q291.38 327.92 291.27 329.52L290.68 331.21L291.32 333.30L285.82 333.30L286.47 331.21L285.88 329.52Q285.77 327.92 287.57 327.52Z"/></g><text x="76.4" y="210.4" font-size="10.1" font-family="Liberation Sans, Noto Sans CJK SC, sans-serif" fill="#383838" text-anchor="middle" font-weight="bold">选举产生</text><text x="77.4" y="223.2" font-size="10.1" font-family="Liberation Sans, Noto Sans CJK SC, sans-serif" fill="#383838" text-anchor="middle" font-weight="bold"><tspan font-size="10.71" letter-spacing="-0.45">168&#8201;</tspan>名议员</text><text x="143.8" y="210.4" font-size="10.1" font-family="Liberation Sans, Noto Sans CJK SC, sans-serif" fill="#383838" text-anchor="middle" font-weight="bold">军方指定产生</text><text x="143.8" y="223.2" font-size="10.1" font-family="Liberation Sans, Noto Sans CJK SC, sans-serif" fill="#383838" text-anchor="middle" font-weight="bold"><tspan font-size="10.71" letter-spacing="-0.45">56&#8201;</tspan>名议员</text><text x="211.7" y="210.4" font-size="10.3" font-family="Liberation Sans, Noto Sans CJK SC, sans-serif" fill="#383838" text-anchor="middle" font-weight="bold">军方指定产生</text><text x="212.3" y="223.2" font-size="10.3" font-family="Liberation Sans, Noto Sans CJK SC, sans-serif" fill="#383838" text-anchor="middle" font-weight="bold"><tspan font-size="10.92" letter-spacing="-0.45">110&#8201;</tspan>名议员</text><text x="275.7" y="210.4" font-size="10.1" font-family="Liberation Sans, Noto Sans CJK SC, sans-serif" fill="#383838" text-anchor="middle" font-weight="bold">选举产生</text><text x="275.4" y="223.2" font-size="10.6" font-family="Liberation Sans, Noto Sans CJK SC, sans-serif" fill="#383838" text-anchor="middle" font-weight="bold"><tspan font-size="11.24" letter-spacing="-0.45">330&#8201;</tspan>名议员</text><text x="90.4" y="355.4" font-size="9.8" font-family="Liberation Sans, Noto Sans CJK SC, sans-serif" fill="#383838" text-anchor="middle" font-weight="bold">上议院<tspan font-size="10.39" letter-spacing="-0.45">168&#8201;</tspan>名议员</text><text x="89.6" y="367.4" font-size="9.85" font-family="Liberation Sans, Noto Sans CJK SC, sans-serif" fill="#383838" text-anchor="middle" font-weight="bold">推举总统候选人</text><text x="177.9" y="355.4" font-size="10.25" font-family="Liberation Sans, Noto Sans CJK SC, sans-serif" fill="#383838" text-anchor="middle" font-weight="bold">军方<tspan font-size="10.87" letter-spacing="-0.45">&#8201;166&#8201;</tspan>名代表</text><text x="177.9" y="367.4" font-size="10.25" font-family="Liberation Sans, Noto Sans CJK SC, sans-serif" fill="#383838" text-anchor="middle" font-weight="bold">推举总统候选人</text><text x="264.3" y="355.4" font-size="9.9" font-family="Liberation Sans, Noto Sans CJK SC, sans-serif" fill="#383838" text-anchor="middle" font-weight="bold">下议院<tspan font-size="10.49" letter-spacing="-0.45">330</tspan>名议员</text><text x="264.5" y="367.4" font-size="10" font-family="Liberation Sans, Noto Sans CJK SC, sans-serif" fill="#383838" text-anchor="middle" font-weight="bold">推举总统候选人</text></svg>
<div class="wm"></div>
<div class="wmt"><span class="c" style="left:65.5px">加西网</span> <span class="l" style="left:119.6px">westca.com</span> <span class="l" style="left:215.5px">|</span> <span class="c" style="left:225.5px">微信</span> <span class="l" style="left:264px">westcacom</span> <span class="l" style="left:355px">|</span> <span class="c" style="left:364.5px">地产微信</span> <span class="l" style="left:435.2px">westcahouse</span></div>
<div class="edge"></div>
</body></html>
